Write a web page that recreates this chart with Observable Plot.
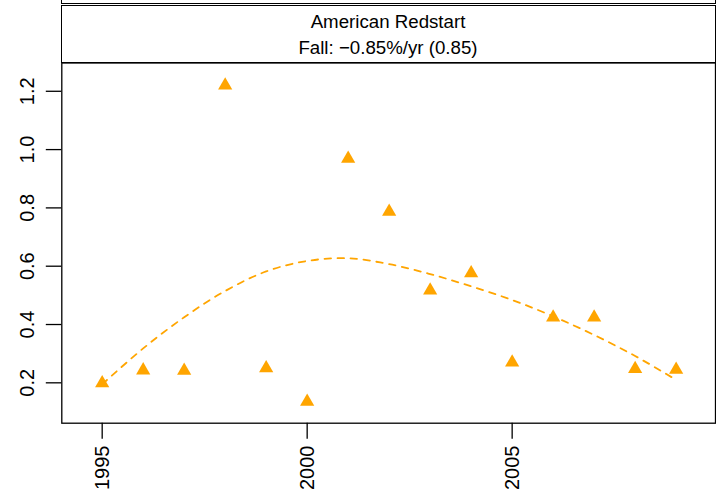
<!DOCTYPE html>
<html>
<head>
<meta charset="utf-8">
<script src="https://cdn.jsdelivr.net/npm/d3@7"></script>
<script src="https://cdn.jsdelivr.net/npm/@observablehq/plot@0.6"></script>
<style>
  html, body { margin: 0; padding: 0; background: #fff; }
  #wrap { position: relative; width: 716px; height: 504px; overflow: hidden; font-family: "Liberation Sans", Arial, Helvetica, sans-serif; }
  #wrap svg { position: absolute; left: 0; top: 0; }
  .strip { position: absolute; box-sizing: border-box; border: 1.3px solid #000; background: #fff; }
  .stripText { position: absolute; left: 61px; width: 654px; text-align: center; font-size: 18.7px; line-height: 24px; color: #000; }
</style>
</head>
<body>
<div id="wrap"></div>
<script>
const stripTop = "";
const stripTitle = "American Redstart";
const stripSubtitle = "Fall: \u22120.85%/yr (0.85)";

const years = [1995, 1996, 1997, 1998, 1999, 2000, 2001, 2002, 2003, 2004, 2005, 2006, 2007, 2008, 2009];
const values = [0.199, 0.243, 0.242, 1.22, 0.250, 0.135, 0.969, 0.787, 0.517, 0.576, 0.270, 0.424, 0.424, 0.248, 0.245];
const trendYears = [1995, 1996, 1997, 1998, 1999, 2000, 2001, 2002, 2003, 2004, 2005, 2006, 2007, 2008, 2009];
const trendValues = [0.195, 0.318, 0.425, 0.515, 0.582, 0.618, 0.627, 0.607, 0.573, 0.531, 0.484, 0.428, 0.364, 0.292, 0.21];
const xTicks = [1995, 2000, 2005];
const yTicks = [0.2, 0.4, 0.6, 0.8, 1.0, 1.2];

const pts = years.map((y, i) => ({year: y, value: values[i]}));
const trend = trendYears.map((y, i) => ({year: y, value: trendValues[i]}));

const color = "#FFA500";

const chart = Plot.plot({
  width: 716,
  height: 504,
  marginLeft: 61.3,
  marginRight: 1,
  marginTop: 62.5,
  marginBottom: 81.3,
  style: {fontFamily: '"Liberation Sans", Arial, Helvetica, sans-serif', background: "transparent"},
  x: {domain: [1994.015, 2009.96], axis: null},
  y: {domain: [0.0615, 1.297], axis: null},
  marks: [
    Plot.axisX({ticks: xTicks, tickSize: 16, tickFormat: () => "", label: null, stroke: "#000", strokeWidth: 1.3}),
    Plot.axisY({ticks: yTicks, tickSize: 15.5, tickFormat: () => "", label: null, stroke: "#000", strokeWidth: 1.3}),
    Plot.text(xTicks, {x: d => d, text: d => String(d), frameAnchor: "bottom", dy: 22.3, rotate: -90, textAnchor: "end", lineAnchor: "middle", fontSize: 20, fill: "#000"}),
    Plot.text(yTicks, {y: d => d, text: d => d.toFixed(1), frameAnchor: "left", dx: -28, rotate: -90, textAnchor: "middle", lineAnchor: "bottom", fontSize: 20, fill: "#000"}),
    Plot.line(trend, {x: "year", y: "value", curve: "catmull-rom", stroke: color, strokeWidth: 1.8, strokeDasharray: "6.5,6.5"}),
    Plot.dot(pts, {x: "year", y: "value", symbol: "triangle", r: 5.27, fill: color, stroke: "none"}),
    Plot.frame({stroke: "#000", strokeWidth: 1.3})
  ]
});

const wrap = document.getElementById("wrap");
wrap.appendChild(chart);

function addDiv(cls, style, text) {
  const d = document.createElement("div");
  d.className = cls;
  Object.assign(d.style, style);
  if (text != null) d.textContent = text;
  wrap.appendChild(d);
  return d;
}
addDiv("strip", {left: "60.7px", top: "-20px", width: "655px", height: "24px"}, stripTop);
addDiv("strip", {left: "60.7px", top: "5.4px", width: "655px", height: "57.6px"});
addDiv("stripText", {top: "10px"}, stripTitle);
addDiv("stripText", {top: "36px"}, stripSubtitle);
</script>
</body>
</html>
